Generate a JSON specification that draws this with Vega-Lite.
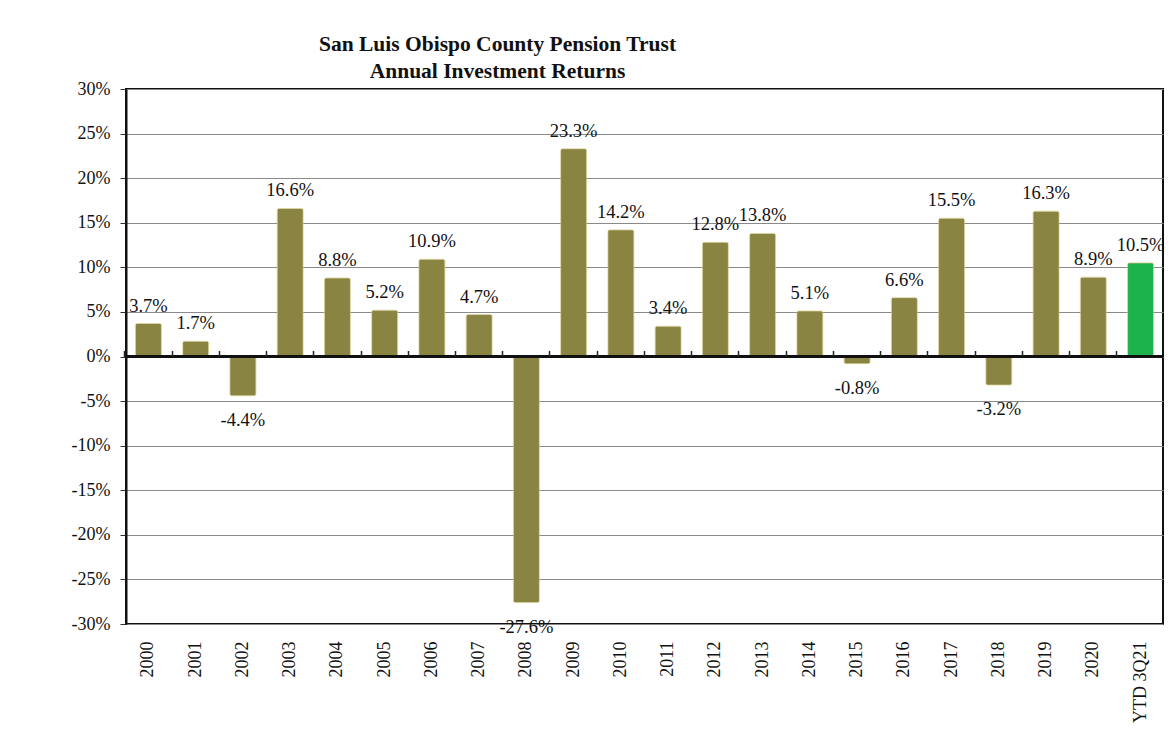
{
  "$schema": "https://vega.github.io/schema/vega-lite/v6.json",
  "width": 1037,
  "height": 535,
  "autosize": {"type": "none"},
  "padding": {"left": 126, "top": 89, "right": 9, "bottom": 112},
  "background": "white",
  "title": {
    "text": ["San Luis Obispo County Pension Trust", "Annual Investment Returns"],
    "font": "Liberation Serif",
    "fontSize": 21.5,
    "fontWeight": "bold",
    "color": "#111111",
    "anchor": "middle",
    "dx": -147,
    "lineHeight": 27,
    "offset": -2
  },
  "config": {
    "view": {"stroke": "#111111", "strokeWidth": 2},
    "axis": {"labelFont": "Liberation Serif", "titleFont": "Liberation Serif"}
  },
  "resolve": {"axis": {"x": "independent"}},
  "data": {
    "values": [
      {"year": "2000", "ret": 3.7, "label": "3.7%", "cur": "no"},
      {"year": "2001", "ret": 1.7, "label": "1.7%", "cur": "no"},
      {"year": "2002", "ret": -4.4, "label": "-4.4%", "cur": "no"},
      {"year": "2003", "ret": 16.6, "label": "16.6%", "cur": "no"},
      {"year": "2004", "ret": 8.8, "label": "8.8%", "cur": "no"},
      {"year": "2005", "ret": 5.2, "label": "5.2%", "cur": "no"},
      {"year": "2006", "ret": 10.9, "label": "10.9%", "cur": "no"},
      {"year": "2007", "ret": 4.7, "label": "4.7%", "cur": "no"},
      {"year": "2008", "ret": -27.6, "label": "-27.6%", "cur": "no"},
      {"year": "2009", "ret": 23.3, "label": "23.3%", "cur": "no"},
      {"year": "2010", "ret": 14.2, "label": "14.2%", "cur": "no"},
      {"year": "2011", "ret": 3.4, "label": "3.4%", "cur": "no"},
      {"year": "2012", "ret": 12.8, "label": "12.8%", "cur": "no"},
      {"year": "2013", "ret": 13.8, "label": "13.8%", "cur": "no"},
      {"year": "2014", "ret": 5.1, "label": "5.1%", "cur": "no"},
      {"year": "2015", "ret": -0.8, "label": "-0.8%", "cur": "no"},
      {"year": "2016", "ret": 6.6, "label": "6.6%", "cur": "no"},
      {"year": "2017", "ret": 15.5, "label": "15.5%", "cur": "no"},
      {"year": "2018", "ret": -3.2, "label": "-3.2%", "cur": "no"},
      {"year": "2019", "ret": 16.3, "label": "16.3%", "cur": "no"},
      {"year": "2020", "ret": 8.9, "label": "8.9%", "cur": "no"},
      {"year": "YTD 3Q21", "ret": 10.5, "label": "10.5%", "cur": "yes"}
    ]
  },
  "layer": [
    {
      "mark": {"type": "bar", "stroke": "#c9c27a", "strokeWidth": 1, "strokeOpacity": 0.6, "cornerRadius": 2},
      "encoding": {
        "x": {
          "field": "year",
          "type": "nominal",
          "sort": null,
          "scale": {"paddingInner": 0.45, "paddingOuter": 0.2},
          "axis": {
            "title": null,
            "labelAngle": -90,
            "labelAlign": "right",
            "labelBaseline": "middle",
            "labelFontSize": 18,
            "labelColor": "#111111",
            "labelPadding": 17,
            "ticks": false,
            "domain": false,
            "grid": false
          }
        },
        "y": {
          "field": "ret",
          "type": "quantitative",
          "scale": {"domain": [-30, 30], "nice": false},
          "axis": {
            "title": null,
            "values": [-30, -25, -20, -15, -10, -5, 0, 5, 10, 15, 20, 25, 30],
            "labelExpr": "datum.value + '%'",
            "labelFontSize": 18,
            "labelColor": "#111111",
            "labelPadding": 10,
            "tickSize": 6,
            "tickColor": "#333333",
            "domain": true,
            "domainColor": "#111111",
            "domainWidth": 2,
            "grid": true,
            "gridColor": "#8a8a8a",
            "gridWidth": 1
          }
        },
        "color": {
          "field": "cur",
          "type": "nominal",
          "scale": {"domain": ["no", "yes"], "range": ["#8a8443", "#1cb24c"]},
          "legend": null
        }
      }
    },
    {
      "mark": {"type": "rule", "color": "#111111", "strokeWidth": 1.5},
      "encoding": {"y": {"datum": 0}}
    },
    {
      "transform": [{"filter": "datum.ret >= 0"}],
      "mark": {"type": "text", "font": "Liberation Serif", "fontSize": 18.5, "color": "#111111", "baseline": "middle", "dy": -18},
      "encoding": {
        "x": {
          "field": "year",
          "type": "nominal",
          "sort": null,
          "axis": {
            "title": null,
            "labels": false,
            "domain": false,
            "grid": false,
            "ticks": true,
            "tickSize": 6,
            "tickColor": "#222222",
            "tickWidth": 1.5,
            "bandPosition": -0.41,
            "offset": -267.5,
            "zindex": 1
          }
        },
        "y": {"field": "ret", "type": "quantitative"},
        "text": {"field": "label"}
      }
    },
    {
      "transform": [{"filter": "datum.ret < 0"}],
      "mark": {"type": "text", "font": "Liberation Serif", "fontSize": 18.5, "color": "#111111", "baseline": "middle", "dy": 24},
      "encoding": {
        "x": {"field": "year", "type": "nominal", "sort": null, "axis": null},
        "y": {"field": "ret", "type": "quantitative"},
        "text": {"field": "label"}
      }
    }
  ]
}
